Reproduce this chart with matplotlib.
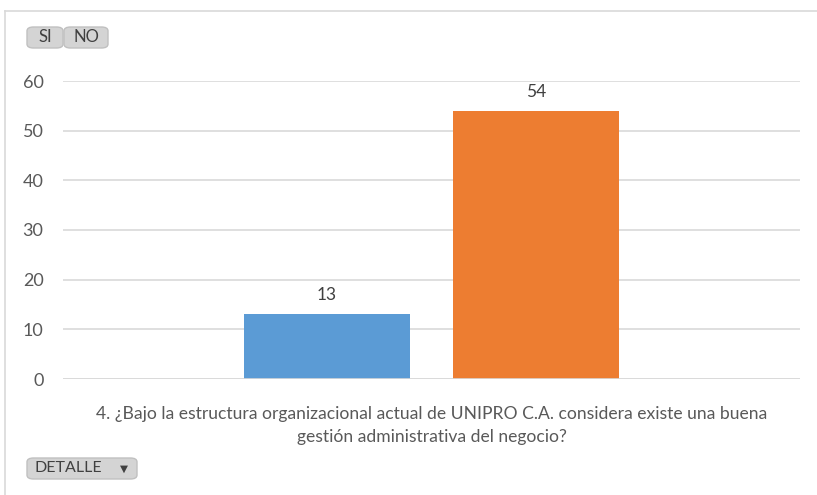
import matplotlib
matplotlib.use("Agg")
import matplotlib.pyplot as plt
from matplotlib.patches import FancyBboxPatch
from matplotlib.lines import Line2D

categories = ["4. ¿Bajo la estructura organizacional actual de UNIPRO C.A. considera existe una buena\ngestión administrativa del negocio?"]
series_names = ["SI", "NO"]
si_values = [13]
no_values = [54]
colors = ["#5B9BD5", "#ED7D31"]
yticks = [0, 10, 20, 30, 40, 50, 60]

plt.rcParams['font.family'] = ['Lato', 'DejaVu Sans']

fig = plt.figure(figsize=(8.17, 4.95), dpi=100)
ax = fig.add_axes([63/817, 1-379/495, (800-63)/817, (379-81)/495])

x = 0
w = 0.225
off = 0.142
b1 = ax.bar([x - off], si_values, width=w, color=colors[0], zorder=3)
b2 = ax.bar([x + off], no_values, width=w, color=colors[1], zorder=3)
for bars, vals in ((b1, si_values), (b2, no_values)):
    for r, v in zip(bars, vals):
        ax.annotate(str(v), (r.get_x() + r.get_width()/2, v), xytext=(0, 8),
                    textcoords="offset points", ha="center", va="bottom",
                    fontsize=12.5, color="#404040")

ax.set_xlim(-0.5, 0.5)
ax.set_ylim(0, 60)
ax.set_yticks(yticks)
ax.set_yticklabels([str(t) for t in yticks], fontsize=13, color="#595959")
ax.yaxis.grid(True, color="#D9D9D9", linewidth=1.2, zorder=0)
ax.set_axisbelow(True)
for s in ax.spines.values():
    s.set_visible(False)
ax.tick_params(axis='y', length=0, pad=14)
ax.set_xticks([x])
ax.set_xticklabels(categories, fontsize=12.6, color="#595959", linespacing=1.55)
ax.tick_params(axis='x', length=0, pad=19.5)
ax.axhline(0, color="#D9D9D9", linewidth=1.2, zorder=4)

# outer frame lines
fig.add_artist(Line2D([5/817, 5/817], [0, 1-11/495], color="#D9D9D9", linewidth=1.2))
fig.add_artist(Line2D([5/817, 1], [1-11/495, 1-11/495], color="#D9D9D9", linewidth=1.2))

def button(x0, y0, x1, y1, text, arrow=False):
    W, H = 817, 495
    p = FancyBboxPatch((x0/W, 1-y1/H), (x1-x0)/W, (y1-y0)/H,
                       boxstyle="round,pad=0,rounding_size=0.008",
                       transform=fig.transFigure, facecolor="#D4D4D4",
                       edgecolor="#C0C0C0", linewidth=1.0)
    fig.add_artist(p)
    if arrow:
        fig.text((x0+8)/W, 1-((y0+y1)/2)/H, text, ha="left", va="center",
                 fontsize=11.5, color="#404040")
        fig.text((x1-13)/W, 1-((y0+y1)/2)/H, "▼", ha="center", va="center",
                 fontsize=7.5, color="#404040", family="DejaVu Sans")
    else:
        fig.text(((x0+x1)/2)/W, 1-((y0+y1)/2)/H, text, ha="center", va="center",
                 fontsize=12, color="#404040")

button(27, 27, 63, 48, series_names[0])
button(64, 27, 108, 48, series_names[1])
button(27, 458, 137, 479, "DETALLE", arrow=True)

fig.savefig("out.png", dpi=100, facecolor="white")
